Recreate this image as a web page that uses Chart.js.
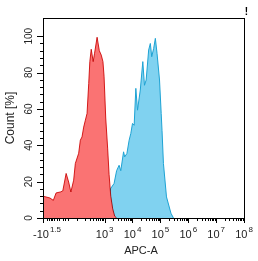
<!DOCTYPE html>
<html>
<head>
<meta charset="utf-8">
<script src="https://cdn.jsdelivr.net/npm/chart.js@4.4.1/dist/chart.umd.min.js"></script>
<style>
    html, body { margin: 0; padding: 0; background: #fff; }
</style>
</head>
<body>
<canvas id="histChart" width="258" height="261"></canvas>
<script>
// APC-A histogram overlay (x in display decades: 10^k sits at k, left edge is -10^1.5)
const redX = [0.79, 1.04, 1.16, 1.26, 1.41, 1.50, 1.62, 1.71, 1.79, 1.89, 1.95, 2.07, 2.13, 2.19, 2.25, 2.31, 2.37, 2.43, 2.47, 2.52, 2.59, 2.64, 2.73, 2.81, 2.88, 2.94, 2.98, 3.04, 3.11, 3.16, 3.22, 3.29, 3.36, 3.43];
const redY = [12, 11, 9.7, 13.8, 14.3, 14.9, 24.5, 19.8, 14.3, 20.8, 30, 35.6, 42.8, 44.6, 50, 53.8, 57.5, 74, 86, 92.8, 86, 90.6, 99.4, 92, 89.6, 86, 78, 55, 38, 24, 12, 5, 1, 0];

const blueX = [1.75, 1.89, 2.06, 2.31, 2.55, 2.67, 2.79, 2.92, 3.04, 3.16, 3.22, 3.34, 3.43, 3.52, 3.58, 3.68, 3.72, 3.80, 3.88, 3.94, 4.00, 4.06, 4.12, 4.18, 4.28, 4.37, 4.43, 4.49, 4.58, 4.64, 4.69, 4.76, 4.82, 4.88, 4.97, 5.03, 5.06, 5.11, 5.22, 5.38, 5.47];
const blueY = [0, 1.5, 1, 2.5, 5.3, 3.6, 6.3, 8, 11.6, 13.6, 16.3, 19, 26, 29, 26, 36.4, 33.6, 35.5, 42.8, 46.5, 52, 51, 71.3, 59.3, 70.4, 86, 73, 75.9, 92.4, 96, 88.7, 93.3, 98.8, 90.6, 75.9, 57.5, 48, 30, 11.6, 2.6, 0];

// axis ticks
const xMin = 0.79, xMax = 8;
const xTickValues = [3, 4, 5, 6, 7, 8];
const xTickExp = ['3', '4', '5', '6', '7', '8'];
const xMinorTicks = [0.92, 1.0, 1.06, 1.12, 1.19, 1.28, 1.37, 1.49, 1.58, 1.70, 2.0, 2.3, 2.48, 2.6, 2.7, 2.78, 2.85, 2.9, 2.95];
const yMax = 110;
const yTicks = [0, 20, 40, 60, 80, 100];

const FONT = '"Liberation Sans", Arial, sans-serif';

function pts(xs, ys) {
    return xs.map((x, i) => ({ x: x, y: ys[i] }));
}

// decade minor ticks 2..9 x 10^k
for (let k = 3; k < 8; k++) {
    for (let m = 2; m < 10; m++) xMinorTicks.push(k + Math.log10(m));
}

// red drawn with multiply so the overlap turns dark like the original
const blendPlugin = {
    id: 'blend',
    beforeDatasetDraw(chart, args) {
        if (args.index === 0) {
            chart.ctx.save();
            chart.ctx.globalCompositeOperation = 'multiply';
        }
    },
    afterDatasetDraw(chart, args) {
        if (args.index === 0) chart.ctx.restore();
    }
};

const framePlugin = {
    id: 'frame',
    beforeDraw(chart) {
        const ctx = chart.ctx;
        ctx.save();
        ctx.fillStyle = '#fff';
        ctx.fillRect(0, 0, chart.width, chart.height);
        ctx.restore();
    },
    afterDraw(chart) {
        const { ctx, chartArea: a, scales: { x, y } } = chart;
        const L = Math.round(a.left), R = Math.round(a.right), T = Math.round(a.top), B = Math.round(a.bottom);
        ctx.save();
        ctx.strokeStyle = '#000';
        ctx.lineWidth = 1;
        ctx.strokeRect(L + 0.5, T + 0.5, R - L, B - T);

        // y ticks
        ctx.beginPath();
        for (let v = 0; v <= 100; v += 4) {
            const py = Math.round(y.getPixelForValue(v)) + 0.5;
            const len = v % 20 === 0 ? 6 : 3;
            ctx.moveTo(L - len, py);
            ctx.lineTo(L, py);
        }
        // x ticks
        const major = [xMin].concat(xTickValues);
        major.forEach(v => {
            const px = Math.round(x.getPixelForValue(v)) + 0.5;
            ctx.moveTo(px, B);
            ctx.lineTo(px, B + 5);
        });
        xMinorTicks.forEach(v => {
            const px = Math.round(x.getPixelForValue(v)) + 0.5;
            ctx.moveTo(px, B);
            ctx.lineTo(px, B + 3);
        });
        ctx.stroke();

        ctx.fillStyle = '#222';
        // y tick labels, rotated
        ctx.font = '10px ' + FONT;
        ctx.textAlign = 'center';
        ctx.textBaseline = 'middle';
        yTicks.forEach(v => {
            ctx.save();
            ctx.translate(29, y.getPixelForValue(v));
            ctx.rotate(-Math.PI / 2);
            ctx.fillText(String(v), 0, 0);
            ctx.restore();
        });

        // x tick labels with superscripts
        ctx.textAlign = 'left';
        ctx.textBaseline = 'alphabetic';
        const drawPow = (base, exp, cx, left) => {
            ctx.font = '11px ' + FONT;
            const wb = ctx.measureText(base).width;
            ctx.font = '8px ' + FONT;
            const we = ctx.measureText(exp).width;
            const x0 = left !== undefined ? left : cx - (wb + we + 1) / 2;
            ctx.font = '11px ' + FONT;
            ctx.fillText(base, x0, 238);
            ctx.font = '8px ' + FONT;
            ctx.fillText(exp, x0 + wb + 1, 232);
        };
        drawPow('-10', '1.5', 0, 33);
        xTickValues.forEach((v, i) => drawPow('10', xTickExp[i], x.getPixelForValue(v)));

        // axis titles
        ctx.font = '11px ' + FONT;
        ctx.textAlign = 'center';
        ctx.textBaseline = 'middle';
        ctx.fillText('APC-A', 141, 251);
        ctx.save();
        ctx.translate(11, (a.top + a.bottom) / 2);
        ctx.rotate(-Math.PI / 2);
        ctx.font = '12px ' + FONT;
        ctx.fillText('Count [%]', 0, 0);
        ctx.restore();

        ctx.font = 'bold 10px ' + FONT;
        ctx.fillStyle = '#000';
        ctx.fillText('!', 246.5, 12);
        ctx.restore();
    }
};

const ctx = document.getElementById('histChart').getContext('2d');

new Chart(ctx, {
    type: 'line',
    data: {
        datasets: [{
            label: 'Control',
            data: pts(redX, redY),
            borderColor: '#d62222',
            backgroundColor: '#fa7373',
            borderWidth: 1,
            fill: 'origin',
            pointRadius: 0,
            tension: 0
        }, {
            label: 'APC',
            data: pts(blueX, blueY),
            borderColor: '#1ea3d4',
            backgroundColor: '#80d2f0',
            borderWidth: 1,
            fill: 'origin',
            pointRadius: 0,
            tension: 0
        }]
    },
    options: {
        responsive: false,
        animation: false,
        devicePixelRatio: 1,
        layout: {
            padding: { left: 43, top: 18, right: 14, bottom: 43 }
        },
        plugins: {
            legend: { display: false },
            tooltip: { enabled: false }
        },
        scales: {
            x: { type: 'linear', min: xMin, max: xMax, display: false },
            y: { type: 'linear', min: 0, max: yMax, display: false }
        }
    },
    plugins: [blendPlugin, framePlugin]
});
</script>
</body>
</html>
